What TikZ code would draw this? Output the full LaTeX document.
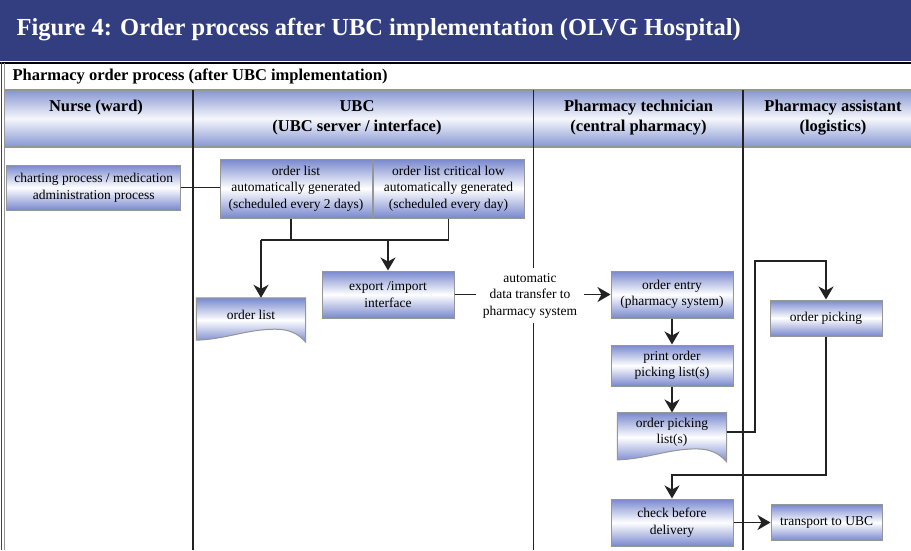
\documentclass[tikz,border=0pt]{standalone}
\usepackage{fontspec}
\setmainfont{Liberation Serif}
\usetikzlibrary{arrows.meta,positioning,calc,backgrounds}

\definecolor{bandblue}{RGB}{51,62,128}
\definecolor{boxblue}{RGB}{120,136,206}
\definecolor{headblue}{RGB}{134,150,210}
\definecolor{linegray}{RGB}{150,150,150}
\definecolor{ink}{RGB}{34,34,34}

\begin{document}
\begin{tikzpicture}[x=1pt,y=-1pt,
  box/.style={rectangle, draw=linegray, line width=1pt, top color=boxblue,
    bottom color=boxblue, middle color=white, align=center,
    font=\fontsize{13.5}{16.5}\selectfont, inner sep=0pt},
  doc/.style={rectangle, align=center, font=\fontsize{13.5}{16.5}\selectfont, inner sep=0pt},
  docshape/.style={draw=linegray, line width=1pt, top color=boxblue,
    bottom color=boxblue, middle color=white},
  lane/.style={draw=ink, line width=1.8pt},
  link/.style={draw=ink, line width=1.8pt},
  arr/.style={link, -{Stealth[length=13pt,width=15pt,inset=4pt]}},
  lanehead/.style={font=\fontsize{16.5}{20}\selectfont\bfseries, align=center},
  node distance=26pt]
\useasboundingbox (0,0) rectangle (911,550);

% title band and frame
\fill[bandblue] (0,0) rectangle (911,61);
\node[anchor=west, text=white, font=\fontsize{24.5}{28}\selectfont\bfseries] (title) at (13,30)
  {Figure 4: Order process after UBC implementation (OLVG Hospital)};
\draw[black, line width=2pt] (0,62.5) -- (911,62.5);
\node[anchor=west, font=\fontsize{16.5}{19}\selectfont\bfseries] (subtitle) at (9,76.5)
  {Pharmacy order process (after UBC implementation)};
\shade[top color=headblue, bottom color=headblue, middle color=white!92!headblue]
  (5,90) rectangle (911,147);
\draw[linegray, line width=1.2pt] (5,90) -- (911,90);
\draw[linegray, line width=1.2pt] (5,147) -- (911,147);
\draw[bandblue, line width=1.5pt] (1.5,62) -- (1.5,550);
\draw[linegray, line width=1.2pt] (4.5,63) -- (4.5,550);

% lanes
\node[lanehead] (hnurse) at (96,108) {Nurse (ward)};
\node[lanehead] (hubc) at (357,117.5) {UBC\\(UBC server / interface)};
\node[lanehead] (htech) at (638.5,117.5) {Pharmacy technician\\(central pharmacy)};
\node[lanehead] (hassist) at (833,117.5) {Pharmacy assistant\\(logistics)};
\draw[lane] (193,90) -- (193,550);
\draw[lane] (533.5,90) -- (533.5,550);
\draw[lane] (743,90) -- (743,550);

% steps
\node[box, minimum width=174pt, minimum height=45pt] (chart) at (93.7,187.5)
  {charting process / medication\\administration process};
\node[box, minimum width=152pt, minimum height=59pt] (olist) at (296,188.5)
  {order list\\automatically generated\\(scheduled every 2 days)};
\node[box, minimum width=151pt, minimum height=59pt, right=0pt of olist] (olcrit)
  {order list critical low\\automatically generated\\(scheduled every day)};
\node[box, minimum width=132pt, minimum height=47pt] (export) at (388,294.5)
  {export /import\\interface};
\node[doc, minimum width=109pt, minimum height=34pt] (olprint) at (251,315) {order list};
\node[fill=white, align=center, font=\fontsize{13.5}{16.5}\selectfont, inner xsep=7pt,
  inner ysep=5pt] (autolbl) at (530,295.5) {automatic\\data transfer to\\pharmacy system};
\node[box, minimum width=122pt, minimum height=47pt] (entry) at (672,294.5)
  {order entry\\(pharmacy system)};
\node[box, minimum width=122pt, minimum height=41pt, below=of entry] (print)
  {print order\\picking list(s)};
\node[doc, minimum width=109pt, minimum height=39pt, below=of print] (picklist)
  {order picking\\list(s)};
\node[box, minimum width=112pt, minimum height=36pt] (picking) at (826,318) {order picking};
\node[box, minimum width=122pt, minimum height=47pt] (check) at (672,522.5)
  {check before\\delivery};
\node[box, minimum width=111pt, minimum height=36pt, right=37pt of check] (transport)
  {transport to UBC};

% document outlines
\begin{scope}[on background layer]
\foreach \d in {olprint,picklist}
  \shade[docshape] (\d.north west) -- (\d.north east) -- ($(\d.south east)+(0,10)$)
    .. controls +(-8,-9) and +(14,0) .. ($(\d.south west)!0.72!(\d.south east)+(0,-3)$)
    .. controls +(-28,0) and +(30,-1) .. ($(\d.south west)+(0,8)$) -- cycle;
\end{scope}

% connectors
\coordinate (jl) at (261,240);
\coordinate (up) at (755,261);
\coordinate (down) at (0,475);
\draw[link] (chart.east) -- (chart.east -| olist.west);
\draw[link] ([xshift=-5pt]olist.south) -- ([xshift=-5pt]olist.south |- jl);
\draw[link] (olcrit.south) |- (jl);
\draw[arr] (jl) -- (jl |- olprint.north);
\draw[arr] (export.north |- jl) -- (export.north);
\draw[link] (export.east) -- (export.east -| autolbl.west);
\draw[arr] (autolbl.east |- entry.west) -- (entry.west);
\draw[arr] (entry) -- (print);
\draw[arr] (print) -- (picklist);
\draw[arr] (picklist.east) -| (up) -| (picking.north);
\draw[arr] (picking.south) |- (check.north |- down) -- (check.north);
\draw[arr] (check) -- (transport);
\end{tikzpicture}
\end{document}
